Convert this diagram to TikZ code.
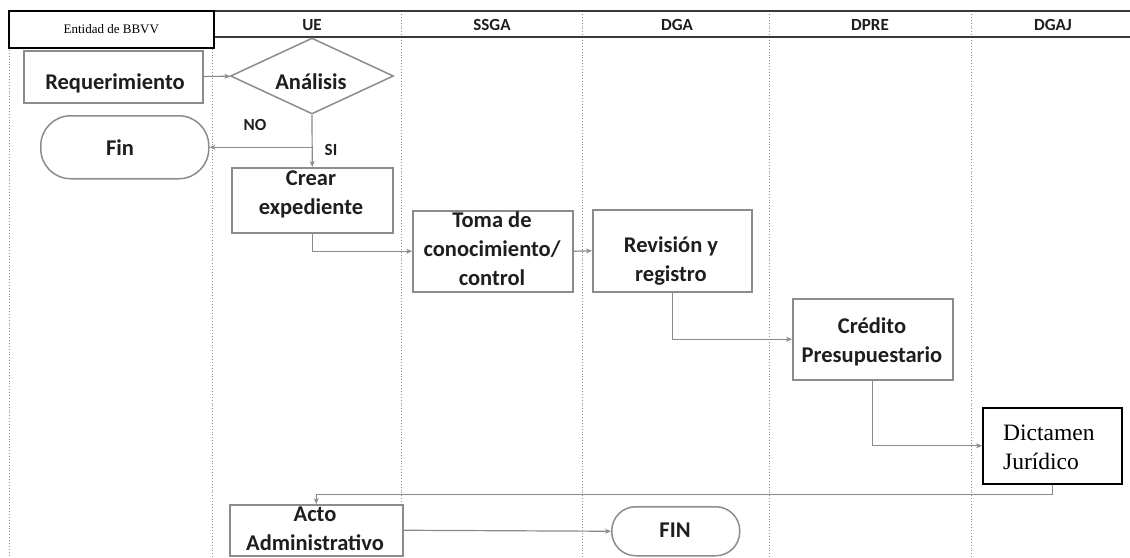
\documentclass[tikz,border=0pt]{standalone}
\usepackage{fontspec}
\setmainfont{Liberation Serif}
\newfontfamily\calib{Carlito}
\usetikzlibrary{shapes.geometric,arrows.meta}
\definecolor{boxgray}{HTML}{8C8C8C}
\definecolor{conngray}{HTML}{8A8A8A}
\definecolor{txtdark}{HTML}{1E1E1E}
\definecolor{lanegray}{HTML}{8F8F8F}
\definecolor{headline}{HTML}{3A3A3A}
\begin{document}
\begin{tikzpicture}[x=1pt,y=-1pt,
  box/.style={draw=boxgray,line width=1.5pt,fill=white,inner sep=0pt,anchor=north west},
  blk/.style={draw=black,line width=1.6pt,fill=white,inner sep=0pt,anchor=north west},
  lbl/.style={font=\calib\bfseries\fontsize{22.5}{29}\selectfont,text=txtdark,align=center,inner sep=0pt},
  hdr/.style={font=\calib\bfseries\fontsize{17}{20}\selectfont,text=txtdark,inner sep=0pt},
  small/.style={font=\calib\bfseries\fontsize{17}{20}\selectfont,text=txtdark,inner sep=0pt},
  conn/.style={draw=conngray,line width=1.2pt,-{Stealth[length=6pt,width=5pt]}},
  lane/.style={draw=lanegray,line width=0.9pt,dotted},
  hline/.style={draw=headline,line width=1.8pt}]
\useasboundingbox (0,0) rectangle (1130,557);
\fill[white] (0,0) rectangle (1130,557);
% lanes
\draw[lane] (9,47) -- (9,557);
\foreach \x in {212,401,582,769,971} \draw[lane] (\x,11) -- (\x,557);
% header
\draw[hline] (213,11) -- (1130,11);
\draw[hline] (213,37) -- (1130,37);
\node[blk,minimum width=205,minimum height=37,font=\fontsize{13}{15}\selectfont] (ent) at (8,10) {Entidad de BBVV};
\node[hdr] (hUE) at (312,25) {UE};
\node[hdr] (hSSGA) at (492,25) {SSGA};
\node[hdr] (hDGA) at (677,25) {DGA};
\node[hdr] (hDPRE) at (870,25) {DPRE};
\node[hdr] (hDGAJ) at (1053,25) {DGAJ};
% shapes
\node[box,minimum width=179,minimum height=52] (req) at (23,50) {};
\node[lbl] (reqT) at (115,83) {Requerimiento};
\node[diamond,draw=boxgray,line width=1.5pt,fill=white,inner sep=0pt,minimum width=163,minimum height=76] (ana) at (312,76) {};
\node[lbl] (anaT) at (311,82) {Análisis};
\node[box,rounded corners=30pt,minimum width=168,minimum height=63] (fin) at (40,115) {};
\node[lbl] (finT) at (120,148) {Fin};
\node[box,minimum width=161,minimum height=65] (crear) at (231,167) {};
\node[lbl] (crearT) at (311,194) {Crear\\expediente};
\node[box,minimum width=160,minimum height=81] (toma) at (412,210) {};
\node[lbl] (tomaT) at (492,249) {Toma de\\conocimiento/\\control};
\node[box,minimum width=159,minimum height=82] (rev) at (592,209) {};
\node[lbl] (revT) at (671,261) {Revisión y\\registro};
\node[box,minimum width=160,minimum height=81] (cred) at (792,298) {};
\node[lbl] (credT) at (872,342) {Crédito\\Presupuestario};
\node[blk,minimum width=139,minimum height=76] (dict) at (982,407) {};
\node[anchor=west,align=left,inner sep=0pt,font=\fontsize{23.5}{29}\selectfont] (dictT) at (1003,447) {Dictamen\\Jurídico};
\node[box,minimum width=173,minimum height=51] (acto) at (229,504) {};
\node[lbl] (actoT) at (315,529) {Acto\\Administrativo};
\node[box,rounded corners=24pt,minimum width=128,minimum height=49] (fin2) at (611,506) {};
\node[lbl] (fin2T) at (675,530) {FIN};
\node[small] (noT) at (255,125) {NO};
\node[small] (siT) at (331,150) {SI};
% connectors
\draw[conn] (req) -- (ana);
\draw[conn] (ana.south) -- (crear.north);
\draw[conn] (ana.south |- fin.east) -- (fin.east);
\draw[conn] (crear.south) |- (toma.west);
\draw[conn] (toma.east) -- (rev.west);
\draw[conn] (rev.south) |- (cred.west);
\draw[conn] (cred.south) |- (dict.west);
\draw[conn] (dict.south) -- ++(0,10) -| (acto.north);
\draw[conn] (acto.east) -- (fin2.west);
\end{tikzpicture}
\end{document}
